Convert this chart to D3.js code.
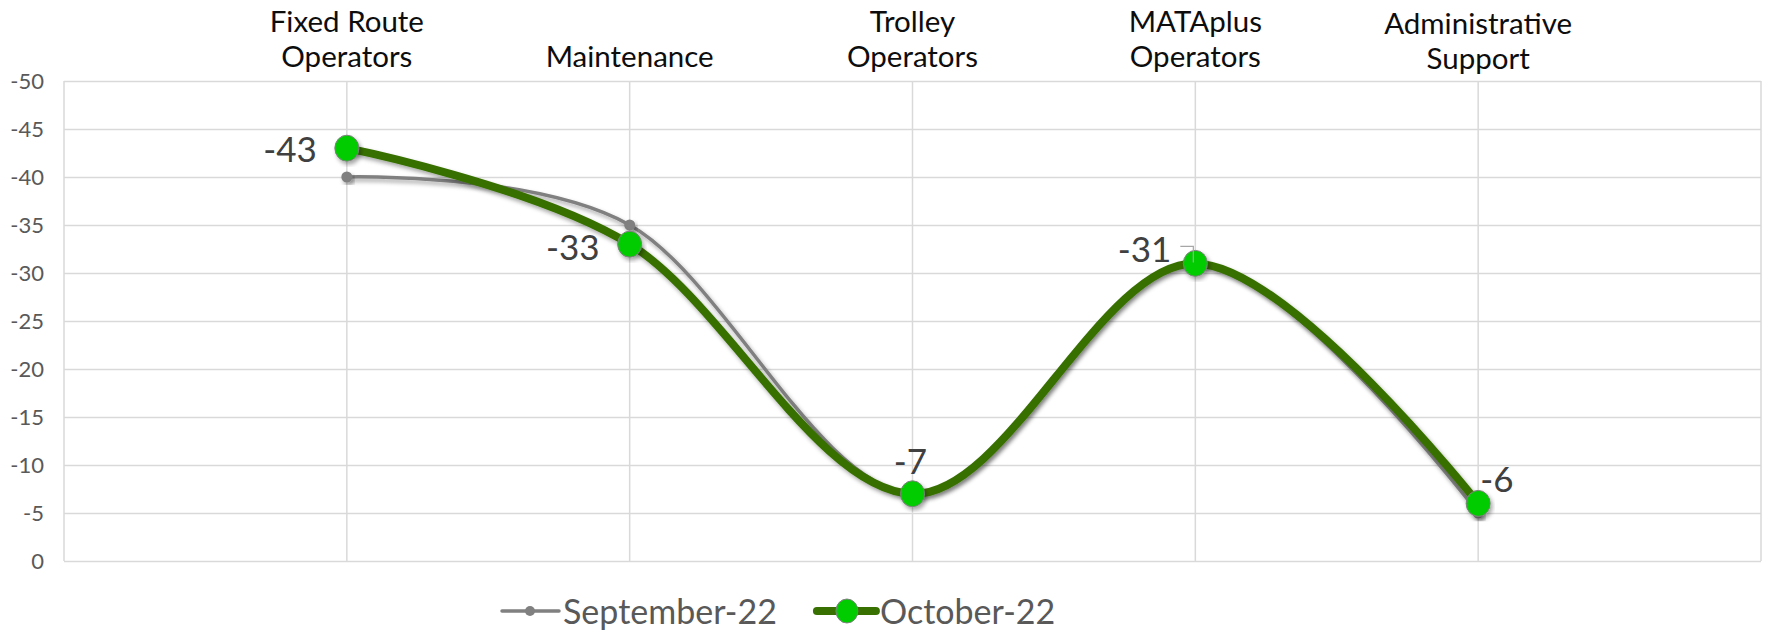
<!DOCTYPE html>
<html>
<head>
<meta charset="utf-8">
<script src="https://cdn.jsdelivr.net/npm/d3@7"></script>
<style>
  body { margin: 0; background: #fff; }
  svg { display: block; font-family: Lato, "Open Sans", sans-serif; }
</style>
</head>
<body>
<svg id="chart" width="1767" height="632"></svg>
<script>
// chart data
const categories = ["Fixed Route Operators", "Maintenance", "Trolley Operators", "MATAplus Operators", "Administrative Support"];
const categoryLines = [["Fixed Route", "Operators"], ["Maintenance"], ["Trolley", "Operators"], ["MATAplus", "Operators"], ["Administrative", "Support"]];
const september22 = [-40, -35, -7, -31, -5];
const october22 = [-43, -33, -7, -31, -6];
const yTicks = [0, -5, -10, -15, -20, -25, -30, -35, -40, -45, -50];
const seriesNames = ["September-22", "October-22"];

// where each October label sits relative to its point (dx, dy, anchor)
const labelPlace = [[-30, 14, "end"], [-30, 16, "end"], [-2, -20, "middle"], [-24, -1, "end"], [2, -11, "start"]];

const svg = d3.select("#chart");
const plotLeft = 64, plotRight = 1761, plotTop = 81, plotBottom = 561;

const x = d3.scalePoint().domain(categories).range([plotLeft, plotRight]).padding(1);
const y = d3.scaleLinear().domain([0, -50]).range([plotBottom, plotTop]);

// drop shadow used by the lines and markers
const defs = svg.append("defs");
defs.append("filter").attr("id", "shadow")
    .attr("x", "-20%").attr("y", "-20%").attr("width", "140%").attr("height", "140%")
  .append("feDropShadow")
    .attr("dx", 2).attr("dy", 3).attr("stdDeviation", 2)
    .attr("flood-color", "#000").attr("flood-opacity", 0.35);

// horizontal gridlines + tick labels
const yAxis = svg.append("g")
    .attr("transform", "translate(" + plotLeft + ",0)")
    .call(d3.axisLeft(y).tickValues(yTicks).tickSize(-(plotRight - plotLeft)).tickPadding(20).tickFormat(d => String(d)));
yAxis.select(".domain").remove();
yAxis.selectAll(".tick line").attr("stroke", "#d9d9d9").attr("stroke-width", 1.5);
yAxis.selectAll(".tick text")
    .attr("fill", "#595959")
    .style("font-size", "22px")
    .style("font-family", "Lato, sans-serif");

// vertical gridlines at categories and the plot edges
const vx = [plotLeft].concat(categories.map(c => x(c))).concat([plotRight]);
svg.append("g").selectAll("line").data(vx).join("line")
    .attr("x1", d => d).attr("x2", d => d)
    .attr("y1", plotTop).attr("y2", plotBottom)
    .attr("stroke", "#d9d9d9").attr("stroke-width", 1.5);

// category labels along the top
const catG = svg.append("g");
categories.forEach(function (c, i) {
    const lines = categoryLines[i];
    const t = catG.append("text")
        .attr("x", x(c))
        .attr("text-anchor", "middle")
        .attr("fill", "#0d0d0d")
        .style("font-size", "29.5px");
    lines.forEach(function (ln, j) {
        t.append("tspan")
            .attr("x", x(c))
            .attr("y", (i === 4 ? 69 : 67) - (lines.length - 1 - j) * 35)
            .text(ln);
    });
});

const line = d3.line()
    .x((d, i) => x(categories[i]))
    .y(d => y(d))
    .curve(d3.curveCardinal.tension(0));

// September-22
svg.append("path")
    .datum(september22)
    .attr("d", line)
    .attr("fill", "none")
    .attr("stroke", "#808080")
    .attr("stroke-width", 3.5)
    .attr("filter", "url(#shadow)");
svg.append("g").selectAll("circle").data(september22).join("circle")
    .attr("cx", (d, i) => x(categories[i]))
    .attr("cy", d => y(d))
    .attr("r", 5.5)
    .attr("fill", "#808080")
    .attr("filter", "url(#shadow)");

// October-22
svg.append("path")
    .datum(october22)
    .attr("d", line)
    .attr("fill", "none")
    .attr("stroke", "#387002")
    .attr("stroke-width", 8)
    .attr("stroke-linecap", "round")
    .attr("filter", "url(#shadow)");
svg.append("g").selectAll("ellipse").data(october22).join("ellipse")
    .attr("cx", (d, i) => x(categories[i]))
    .attr("cy", d => y(d))
    .attr("rx", 12)
    .attr("ry", 13)
    .attr("fill", "#00cc00")
    .attr("stroke", "#7f7f7f")
    .attr("stroke-width", 1)
    .attr("filter", "url(#shadow)");

// data labels for October
svg.append("g").selectAll("text").data(october22).join("text")
    .attr("x", (d, i) => x(categories[i]) + labelPlace[i][0])
    .attr("y", (d, i) => y(d) + labelPlace[i][1])
    .attr("text-anchor", (d, i) => labelPlace[i][2])
    .attr("fill", "#404040")
    .style("font-size", "35px")
    .text(d => String(d));

// small leader line on the MATAplus label
const mx = x(categories[3]), my = y(october22[3]);
svg.append("path")
    .attr("d", "M" + (mx - 15) + "," + (my - 17) + "H" + (mx - 2) + "V" + (my - 1))
    .attr("fill", "none")
    .attr("stroke", "#a6a6a6")
    .attr("stroke-width", 1.2);

// legend
const legend = svg.append("g").attr("transform", "translate(502,611)");
let lx = 0;
seriesNames.forEach(function (name, i) {
    const g = legend.append("g").attr("transform", "translate(" + lx + ",0)");
    if (i === 0) {
        g.append("line").attr("x1", 0).attr("x2", 57).attr("y1", 0).attr("y2", 0)
            .attr("stroke", "#808080").attr("stroke-width", 3.5).attr("stroke-linecap", "round");
        g.append("circle").attr("cx", 28).attr("cy", 0).attr("r", 5).attr("fill", "#808080");
    } else {
        g.append("line").attr("x1", 0).attr("x2", 59).attr("y1", 0).attr("y2", 0)
            .attr("stroke", "#387002").attr("stroke-width", 8).attr("stroke-linecap", "round");
        g.append("ellipse").attr("cx", 30).attr("cy", 0).attr("rx", 11).attr("ry", 12)
            .attr("fill", "#00cc00").attr("stroke", "#7f7f7f").attr("stroke-width", 1);
    }
    const t = g.append("text")
        .attr("x", i === 0 ? 61 : 63)
        .attr("y", 13)
        .attr("fill", "#595959")
        .style("font-size", "34px")
        .text(name);
    lx += (i === 0 ? 61 : 63) + t.node().getComputedTextLength() + 40;
});
</script>
</body>
</html>
